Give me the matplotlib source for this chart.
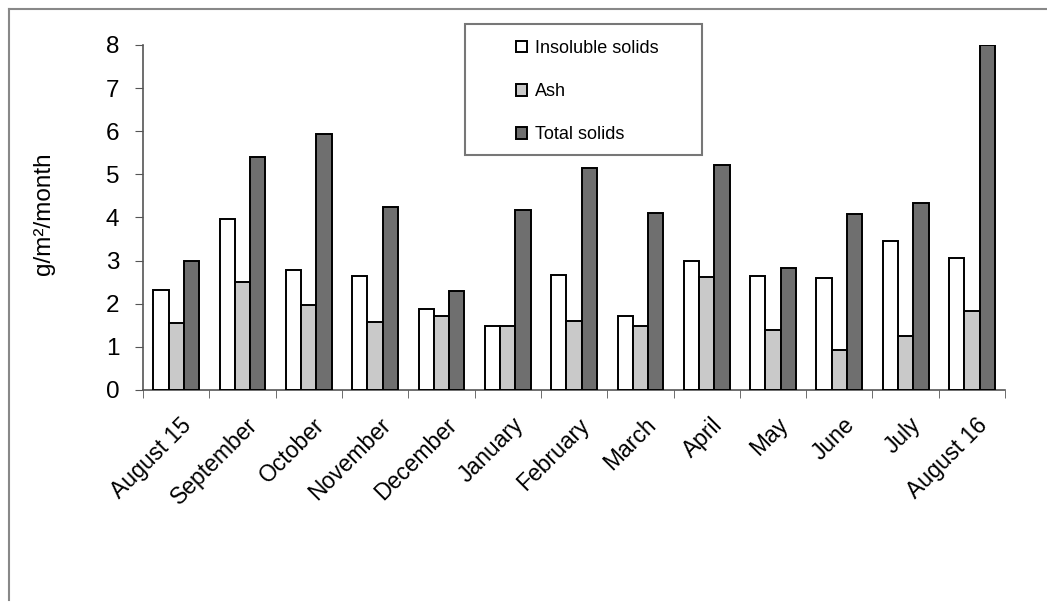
#!/usr/bin/env python3
import matplotlib
matplotlib.use('Agg')
import matplotlib.pyplot as plt
import matplotlib.patches as mpatches
import matplotlib.transforms as mtransforms
from matplotlib.lines import Line2D
import numpy as np

plt.rcParams['font.family'] = ['Liberation Sans', 'DejaVu Sans']

months = ['August 15', 'September', 'October', 'November', 'December',
          'January', 'February', 'March', 'April', 'May', 'June', 'July',
          'August 16']
insoluble = [2.32, 3.97, 2.78, 2.64, 1.87, 1.48, 2.67, 1.72, 2.99, 2.64,
             2.60, 3.45, 3.05]
ash = [1.55, 2.51, 1.97, 1.58, 1.72, 1.48, 1.60, 1.49, 2.63, 1.39, 0.93,
       1.25, 1.83]
total = [2.98, 5.41, 5.94, 4.24, 2.30, 4.17, 5.15, 4.11, 5.22, 2.84, 4.08,
         4.34, 8.0]
series_names = ['Insoluble solids', 'Ash', 'Total solids']


def plot_deposits():
    fig = plt.figure(figsize=(10.47, 6.08), dpi=100)
    ax = fig.add_axes([0.1366, 0.3586, 0.8234, 0.5674])

    x = np.arange(len(months))
    w = 0.23
    colors = ['white', '#c9c9c9', '#6f6f6f']
    for i, vals in enumerate([insoluble, ash, total]):
        ax.bar(x + (i - 1) * w, vals, w, color=colors[i],
               edgecolor='black', linewidth=1.4, label=series_names[i],
               zorder=3)

    ax.set_xlim(-0.5, len(months) - 0.5)
    ax.set_ylim(0, 8)
    ax.set_yticks(range(0, 9))
    ax.tick_params(axis='y', labelsize=17.5, length=6, pad=11,
                   color='#555555')

    # category labels at the centres, tick marks between groups
    ax.set_xticks(x)
    ax.set_xticks(np.arange(-0.5, len(months)), minor=True)
    ax.tick_params(axis='x', which='major', length=0, pad=4)
    ax.tick_params(axis='x', which='minor', length=6, color='#555555')
    ax.set_xticklabels(months, rotation=45, ha='right', va='center',
                       rotation_mode='anchor', fontsize=16.5)
    shift = mtransforms.ScaledTranslation(12 / 100, -26 / 100,
                                          fig.dpi_scale_trans)
    for lbl in ax.get_xticklabels():
        lbl.set_transform(lbl.get_transform() + shift)

    for side in ['top', 'right']:
        ax.spines[side].set_visible(False)
    ax.spines['left'].set_color('#555555')
    ax.spines['bottom'].set_color('#555555')
    ax.spines['left'].set_linewidth(1.2)
    ax.spines['bottom'].set_linewidth(1.2)

    fig.text(44 / 1047, 1 - 214 / 608, 'g/m²/month', rotation=90,
             fontsize=17.5, ha='center', va='center')

    # legend box
    fig.patches.append(mpatches.Rectangle(
        (465 / 1047, 1 - 155 / 608), 237 / 1047, 131 / 608,
        transform=fig.transFigure, fill=False, edgecolor='#777777',
        linewidth=1.5))
    handles = [mpatches.Patch(facecolor=c, edgecolor='black', linewidth=1.4)
               for c in colors]
    fig.legend(handles, series_names, loc='upper left',
               bbox_to_anchor=(507 / 1047, 1 - 31 / 608), frameon=False,
               fontsize=13, handlelength=0.6, handleheight=0.6,
               handletextpad=0.45, labelspacing=1.45, borderpad=0)

    # scanned page border
    fig.add_artist(Line2D([9 / 1047, 9 / 1047], [1 - 9 / 608, 8 / 608],
                          transform=fig.transFigure, color='#888888',
                          linewidth=1.5))
    fig.add_artist(Line2D([9 / 1047, 1.0], [1 - 9 / 608, 1 - 9 / 608],
                          transform=fig.transFigure, color='#888888',
                          linewidth=1.5))

    fig.savefig('out.png', dpi=100)


if __name__ == '__main__':
    plot_deposits()
